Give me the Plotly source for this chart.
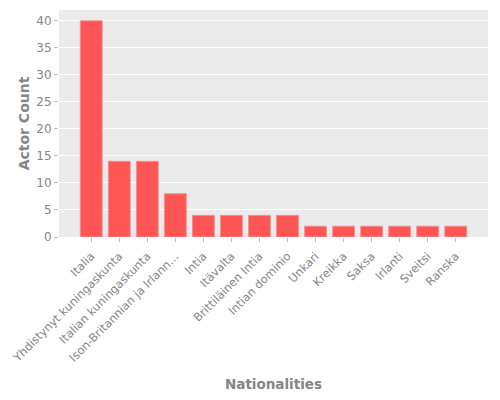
import plotly.graph_objects as go

# nationalities and actor counts
nationalities = ["Italia", "Yhdistynyt kuningaskunta", "Italian kuningaskunta",
                 "Ison-Britannian ja Irlann…", "Intia", "Itävalta", "Brittiläinen Intia",
                 "Intian dominio", "Unkari", "Kreikka", "Saksa", "Irlanti", "Sveitsi", "Ranska"]
actor_counts = [40, 14, 14, 8, 4, 4, 4, 4, 2, 2, 2, 2, 2, 2]

grey = "#858585"

fig = go.Figure(go.Bar(
    x=nationalities,
    y=actor_counts,
    marker=dict(color="#ff5555", line=dict(color="#f29090", width=1)),
))

# page body has an 8px margin, so the plot box is shifted up/left by 8
fig.update_layout(
    width=500, height=400,
    margin=dict(l=51, r=20, t=2, b=171),
    paper_bgcolor="white",
    plot_bgcolor="#ebebeb",
    font=dict(family="DejaVu Sans", color=grey, size=12),
    bargap=0.22,
    showlegend=False,
)
fig.update_xaxes(
    title=dict(text="Nationalities", font=dict(size=13.5, color=grey, weight="bold")),
    tickangle=-45,
    tickfont=dict(size=11.5),
    ticklabelstandoff=3,
    range=[-1.15, 14.15],
    ticks="outside", ticklen=4, tickcolor="#bbbbbb",
    showgrid=False, zeroline=False,
    automargin=False,
)
fig.update_yaxes(
    title=dict(text="Actor Count", font=dict(size=14, color=grey, weight="bold"), standoff=3),
    range=[0, 42], dtick=5,
    ticks="outside", ticklen=4, tickcolor="#bbbbbb",
    gridcolor="white", gridwidth=1, zeroline=False,
    automargin=False,
)

fig.write_html("out.html")
